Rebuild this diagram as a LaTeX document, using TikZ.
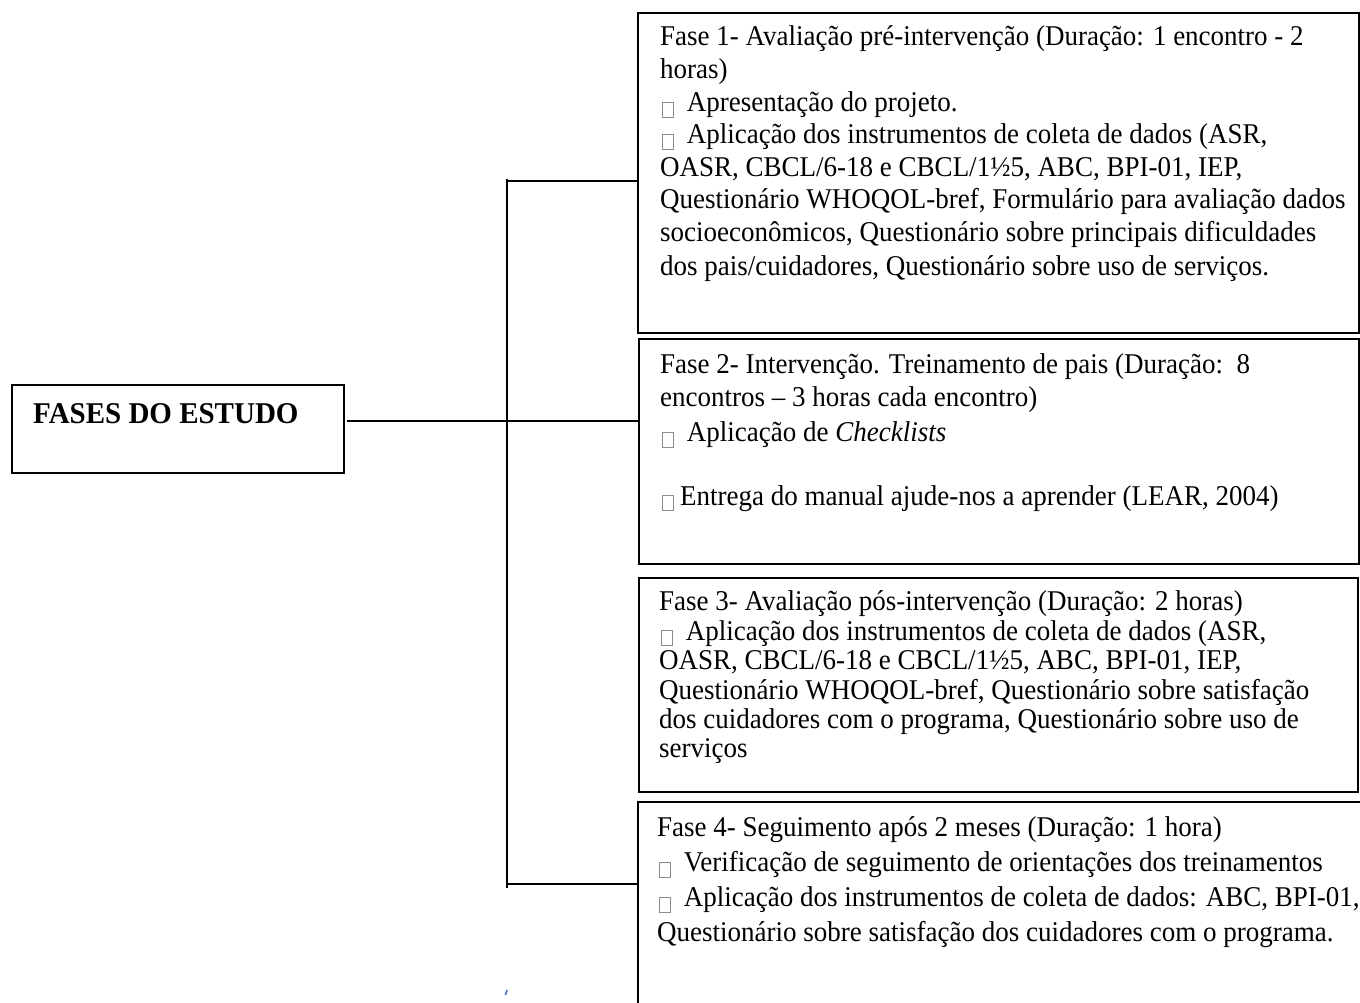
\documentclass[tikz,border=0pt]{standalone}
\usepackage{fontspec}
\setmainfont{Liberation Serif}
\usepackage{xcolor}
\usepackage{graphicx}
\definecolor{markblue}{RGB}{68,114,196}
\newcommand{\tofu}{\hspace{2pt}\raisebox{-4.8pt}{\textcolor{black!45}{\setlength{\fboxrule}{0.8pt}\setlength{\fboxsep}{0pt}\fbox{\rule{0pt}{13pt}\hspace{10.4pt}}}}\hspace{6pt}}
\newcommand{\st}[1]{\scalebox{1}[1.06]{#1}}
\newcommand{\stb}[1]{\scalebox{1}[1.04]{#1}}
\begin{document}
\begin{tikzpicture}[x=1pt,y=-1pt,
  txt/.style={anchor=base west, inner sep=0pt, font=\fontsize{27}{32.7}\selectfont},
  ttl/.style={anchor=base west, inner sep=0pt, font=\bfseries\fontsize{29}{34}\selectfont},
  frame/.style={draw, line width=2pt, anchor=north west, inner sep=0pt, rectangle},
  conn/.style={draw, line width=2pt}]
\clip (0,0) rectangle (1360,1003);
\useasboundingbox (0,0) rectangle (1360,1003);
\fill[white] (0,0) rectangle (1360,1003);

% boxes
\node[frame, minimum width=332pt, minimum height=88pt] (main) at (11,384) {};
\node[frame, minimum width=721pt, minimum height=320pt] (f1) at (637,12) {};
\node[frame, minimum width=720pt, minimum height=225pt] (f2) at (638,338) {};
\node[frame, minimum width=719pt, minimum height=214pt] (f3) at (638,577) {};
\node[frame, minimum width=730pt, minimum height=230pt] (f4) at (637,801) {};

% connectors
\coordinate (hs) at (347,421);
\coordinate (vt) at (507,179);
\coordinate (vb) at (507,888);
\coordinate (b1) at (507,181);
\coordinate (b4) at (507,884);
\draw[conn] (hs) -- (hs -| f2.west);
\draw[conn] (vt) -- (vb);
\draw[conn] (b1) -- (b1 -| f1.west);
\draw[conn] (b4) -- (b4 -| f4.west);

% stray mark
\draw[markblue, line width=1.6pt] (505.5,995) -- (507,990);

% title
\node[ttl] (t0) at (33,423.3) {\stb{FASES DO ESTUDO}};

% Fase 1
\node[txt] (a1) at (660,46) {\st{Fase 1- Avaliação pré-intervenção (Duração: 1 encontro - 2}};
\node[txt] (a2) at (660,79) {\st{horas)}};
\node[txt] (a3) at (660,112) {\st{\tofu{} Apresentação do projeto.}};
\node[txt] (a4) at (660,144) {\st{\tofu{} Aplicação dos instrumentos de coleta de dados (ASR,}};
\node[txt] (a5) at (660,177) {\st{OASR, CBCL/6-18 e CBCL/1½5, ABC, BPI-01, IEP,}};
\node[txt] (a6) at (660,209) {\st{Questionário WHOQOL-bref, Formulário para avaliação dados}};
\node[txt] (a7) at (660,242) {\st{socioeconômicos, Questionário sobre principais dificuldades}};
\node[txt] (a8) at (660,275) {\st{dos pais/cuidadores, Questionário sobre uso de serviços.}};

% Fase 2
\node[txt] (c1) at (660,373) {\st{Fase 2- Intervenção. Treinamento de pais (Duração:\ \ 8}};
\node[txt] (c2) at (660,406) {\st{encontros – 3 horas cada encontro)}};
\node[txt] (c3) at (660,441.7) {\st{\tofu{} Aplicação de \textit{Checklists}}};
\node[txt] (c4) at (660,505) {\st{\tofu{}Entrega do manual ajude-nos a aprender (LEAR, 2004)}};

% Fase 3
\node[txt] (d1) at (659,610.7) {\st{Fase 3- Avaliação pós-intervenção (Duração: 2 horas)}};
\node[txt] (d2) at (659,640) {\st{\tofu{} Aplicação dos instrumentos de coleta de dados (ASR,}};
\node[txt] (d3) at (659,669.3) {\st{OASR, CBCL/6-18 e CBCL/1½5, ABC, BPI-01, IEP,}};
\node[txt] (d4) at (659,699) {\st{Questionário WHOQOL-bref, Questionário sobre satisfação}};
\node[txt] (d5) at (659,728.3) {\st{dos cuidadores com o programa, Questionário sobre uso de}};
\node[txt] (d6) at (659,757.7) {\st{serviços}};

% Fase 4
\node[txt] (e1) at (657,836) {\st{Fase 4- Seguimento após 2 meses (Duração: 1 hora)}};
\node[txt] (e2) at (657,871.7) {\st{\tofu{} Verificação de seguimento de orientações dos treinamentos}};
\node[txt] (e3) at (657,906.7) {\st{\tofu{} Aplicação dos instrumentos de coleta de dados: ABC, BPI-01,}};
\node[txt] (e4) at (657,941.7) {\st{Questionário sobre satisfação dos cuidadores com o programa.}};
\end{tikzpicture}
\end{document}
